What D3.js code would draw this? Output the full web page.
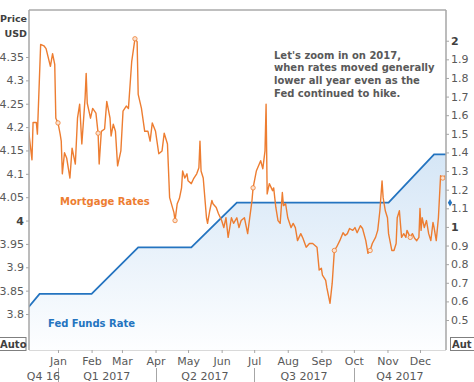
<!DOCTYPE html>
<html><head><meta charset="utf-8">
<script src="https://cdn.jsdelivr.net/npm/d3@7"></script>
<style>
html,body{margin:0;padding:0;background:#fff;}
svg{display:block;}
</style></head>
<body><svg id="c" width="474" height="382"></svg>
<script>
const mortgageDates = ["2016-12-05","2016-12-08","2016-12-09","2016-12-12","2016-12-13","2016-12-16","2016-12-19","2016-12-21","2016-12-25","2016-12-27","2016-12-29","2016-12-30",
"2017-01-01","2017-01-03","2017-01-04","2017-01-05","2017-01-07","2017-01-09","2017-01-12","2017-01-14","2017-01-17","2017-01-19","2017-01-21","2017-01-23","2017-01-26","2017-01-27","2017-01-28","2017-01-31",
"2017-02-02","2017-02-05","2017-02-07","2017-02-08","2017-02-10","2017-02-13","2017-02-15","2017-02-18","2017-02-19","2017-02-21","2017-02-23","2017-02-25","2017-02-28",
"2017-03-02","2017-03-05","2017-03-07","2017-03-10","2017-03-13","2017-03-15","2017-03-16","2017-03-19","2017-03-22","2017-03-25","2017-03-27","2017-03-29",
"2017-04-01","2017-04-04","2017-04-07","2017-04-09","2017-04-12","2017-04-14","2017-04-18","2017-04-19","2017-04-21","2017-04-23","2017-04-25","2017-04-26","2017-04-28","2017-04-30",
"2017-05-01","2017-05-04","2017-05-06","2017-05-09","2017-05-11","2017-05-12","2017-05-13","2017-05-15","2017-05-18","2017-05-19","2017-05-21","2017-05-23","2017-05-24","2017-05-27","2017-05-29",
"2017-06-01","2017-06-03","2017-06-05","2017-06-07","2017-06-10","2017-06-12","2017-06-15","2017-06-17","2017-06-19","2017-06-22","2017-06-25","2017-06-29","2017-06-30",
"2017-07-03","2017-07-07","2017-07-09","2017-07-11","2017-07-12","2017-07-13","2017-07-15","2017-07-18","2017-07-19","2017-07-21","2017-07-23","2017-07-25","2017-07-27","2017-07-28","2017-07-30",
"2017-08-01","2017-08-04","2017-08-06","2017-08-08","2017-08-10","2017-08-13","2017-08-15","2017-08-18","2017-08-21","2017-08-24","2017-08-28","2017-08-30",
"2017-09-01","2017-09-02","2017-09-05","2017-09-06","2017-09-09","2017-09-11","2017-09-13","2017-09-15","2017-09-18","2017-09-21","2017-09-23","2017-09-25","2017-09-27","2017-09-30",
"2017-10-02","2017-10-04","2017-10-07","2017-10-09","2017-10-12","2017-10-14","2017-10-16","2017-10-18","2017-10-21","2017-10-23","2017-10-25","2017-10-27","2017-10-28","2017-10-30",
"2017-11-01","2017-11-02","2017-11-05","2017-11-07","2017-11-09","2017-11-10","2017-11-12","2017-11-14","2017-11-16","2017-11-18","2017-11-19","2017-11-22","2017-11-24","2017-11-26","2017-11-28","2017-11-30",
"2017-12-01","2017-12-02","2017-12-03","2017-12-05","2017-12-07","2017-12-09","2017-12-11","2017-12-13","2017-12-14","2017-12-16","2017-12-18","2017-12-20","2017-12-22","2017-12-24"];
const mortgageRates = [4.19,4.13,4.21,4.21,4.185,4.377,4.374,4.368,4.33,4.357,4.334,4.219,
4.209,4.185,4.17,4.10,4.145,4.134,4.091,4.155,4.121,4.219,4.249,4.164,4.262,4.315,4.251,4.219,
4.24,4.23,4.187,4.121,4.191,4.196,4.255,4.219,4.181,4.206,4.191,4.117,4.149,
4.234,4.245,4.24,4.34,4.389,4.383,4.27,4.24,4.191,4.191,4.17,4.209,
4.191,4.143,4.149,4.187,4.164,4.049,4.017,4.0,4.036,4.047,4.07,4.106,4.091,4.10,
4.085,4.079,4.089,4.10,4.113,4.17,4.106,4.091,4.006,3.994,4.021,4.043,4.036,4.028,4.015,
4.0,3.985,4.006,3.964,4.006,3.994,4.006,3.985,4.0,4.006,3.972,4.043,4.07,
4.106,4.128,4.111,4.149,4.249,4.057,4.079,4.064,4.07,4.028,4.0,3.994,4.06,4.032,4.036,
4.006,3.985,3.994,3.985,3.957,3.972,3.962,3.943,3.951,3.951,3.943,3.894,
3.898,3.883,3.872,3.857,3.823,3.866,3.936,3.943,3.957,3.974,3.968,3.972,3.983,3.979,
3.985,3.974,3.989,3.983,3.957,3.93,3.936,3.951,3.964,3.979,4.021,4.085,4.049,4.021,
4.006,3.972,3.936,3.936,3.951,4.006,4.021,3.964,3.972,3.964,3.979,3.964,3.972,3.962,3.957,3.964,
4.026,3.979,4.006,3.985,4.0,3.972,3.957,3.996,3.985,3.957,4.006,4.096,4.091,4.096];
const markerDates = ["2017-01-01","2017-02-07","2017-03-13","2017-04-19","2017-06-30","2017-09-13","2017-10-16","2017-11-22","2017-12-22"];

const fedDates = ["2016-12-05","2016-12-15","2017-02-01","2017-03-16","2017-05-04","2017-06-15","2017-11-02","2017-12-14","2017-12-25"];
const fedRates = [0.57,0.64,0.64,0.89,0.89,1.13,1.13,1.39,1.39];

const leftTicks = [3.8,3.85,3.9,3.95,4,4.05,4.1,4.15,4.2,4.25,4.3,4.35];
const rightTicks = [0.5,0.6,0.7,0.8,0.9,1,1.1,1.2,1.3,1.4,1.5,1.6,1.7,1.8,1.9,2];
const monthTicks = ["2017-01-01","2017-02-01","2017-03-01","2017-04-01","2017-05-01","2017-06-01","2017-07-01","2017-08-01","2017-09-01","2017-10-01","2017-11-01","2017-12-01"];
const quarterBounds = ["2016-12-05","2017-01-01","2017-04-01","2017-07-01","2017-10-01","2017-12-25"];
const quarterLabels = ["Q4 16","Q1 2017","Q2 2017","Q3 2017","Q4 2017"];
const annotation = ["Let's zoom in on 2017,","when rates moved generally","lower all year even as the","Fed continued to hike."];
const fedMarkerValue = 1.13;

const parse = d3.timeParse("%Y-%m-%d");
const svg = d3.select("#c");
const L = 29, R = 446, T = 10, B = 350;
const FONT = "'DejaVu Sans', Verdana, sans-serif";
const ORANGE = "#ED7D31", BLUE = "#2474C0", AXIS = "#a6a6a6", TXT = "#595959";

const x = d3.scaleTime().domain([new Date(2016,11,5,6), new Date(2017,11,25)]).range([L, R]);
const yL = d3.scaleLinear().domain([3.723, 4.4506]).range([B, T]);
const yR = d3.scaleLinear().domain([0.339, 2.165]).range([B, T]);

const mort = mortgageDates.map((d,i)=>({d:parse(d), v:mortgageRates[i]}));
const fed = fedDates.map((d,i)=>({d:parse(d), v:fedRates[i]}));

const defs = svg.append("defs");
const grad = defs.append("linearGradient").attr("id","fg").attr("gradientUnits","userSpaceOnUse")
  .attr("x1",0).attr("x2",0).attr("y1",yR(1.39)).attr("y2",B);
grad.append("stop").attr("offset",0).attr("stop-color","#d5e6f6");
grad.append("stop").attr("offset",1).attr("stop-color","#fdfeff");
defs.append("clipPath").attr("id","clip").append("rect").attr("x",L).attr("y",T).attr("width",R-L).attr("height",B-T);

const plot = svg.append("g").attr("clip-path","url(#clip)");
plot.append("path").datum(fed)
  .attr("d", d3.area().x(d=>x(d.d)).y0(B).y1(d=>yR(d.v)))
  .attr("fill","url(#fg)");
plot.append("path").datum(fed)
  .attr("d", d3.line().x(d=>x(d.d)).y(d=>yR(d.v)))
  .attr("fill","none").attr("stroke",BLUE).attr("stroke-width",1.8);
plot.append("path").datum(mort)
  .attr("d", d3.line().x(d=>x(d.d)).y(d=>yL(d.v)))
  .attr("fill","none").attr("stroke",ORANGE).attr("stroke-width",1.4).attr("stroke-linejoin","round");
const mk = markerDates.map(s=>mort.find(m=>+m.d===+parse(s))).filter(Boolean);
plot.selectAll("circle.mk").data(mk).join("circle").attr("class","mk")
  .attr("cx",d=>x(d.d)).attr("cy",d=>yL(d.v)).attr("r",2.2)
  .attr("fill","#fbe3d2").attr("stroke",ORANGE).attr("stroke-width",0.8);

// frame
svg.append("line").attr("x1",L).attr("x2",R).attr("y1",T).attr("y2",T).attr("stroke","#bfbfbf").attr("stroke-width",2);
svg.append("line").attr("x1",L).attr("x2",R).attr("y1",B+0.5).attr("y2",B+0.5).attr("stroke","#d9d9d9");

// left axis
const gl = svg.append("g").attr("transform",`translate(${L},0)`)
  .call(d3.axisLeft(yL).tickValues(leftTicks).tickSize(3).tickPadding(2).tickFormat(d=>String(+d.toFixed(2))));
gl.select(".domain").remove();
gl.append("line").attr("x1",0).attr("x2",0).attr("y1",T).attr("y2",B).attr("stroke",AXIS).attr("stroke-width",1.5);
gl.selectAll(".tick line").attr("stroke",AXIS);
gl.selectAll(".tick text").style("font-family",FONT).style("font-size","11px")
  .style("font-weight",d=>d===4?"bold":"normal").attr("fill",d=>d===4?"#404040":TXT);

// right axis
const gr = svg.append("g").attr("transform",`translate(${R},0)`)
  .call(d3.axisRight(yR).tickValues(rightTicks).tickSize(3).tickPadding(2).tickFormat(d=>String(+d.toFixed(1))));
gr.select(".domain").remove();
gr.append("line").attr("x1",0).attr("x2",0).attr("y1",T).attr("y2",B).attr("stroke",AXIS).attr("stroke-width",1.5);
gr.selectAll(".tick line").attr("stroke",AXIS);
gr.selectAll(".tick text").style("font-family",FONT).style("font-size","11px")
  .style("font-weight",d=>(d===1||d===2)?"bold":"normal").attr("fill",d=>(d===1||d===2)?"#404040":TXT);

// bottom month axis
const gb = svg.append("g").attr("transform",`translate(0,${B})`)
  .call(d3.axisBottom(x).tickValues(monthTicks.map(parse)).tickSize(3).tickPadding(4).tickFormat(d3.timeFormat("%b")));
gb.select(".domain").remove();
gb.selectAll(".tick line").attr("stroke",AXIS);
gb.selectAll(".tick text").attr("fill",TXT).style("font-family",FONT).style("font-size","11px");

// quarter row
const qb = quarterBounds.map(parse);
svg.selectAll("line.qsep").data(qb.slice(1,-1)).join("line").attr("class","qsep")
  .attr("x1",d=>Math.round(x(d))+0.5).attr("x2",d=>Math.round(x(d))+0.5).attr("y1",368).attr("y2",382)
  .attr("stroke",AXIS);
svg.selectAll("text.q").data(quarterLabels).join("text").attr("class","q")
  .attr("x",(d,i)=>(x(qb[i])+x(qb[i+1]))/2).attr("y",380).attr("text-anchor","middle")
  .attr("fill",TXT).style("font-family",FONT).style("font-size","11px").text(d=>d);

// Price / USD
svg.append("text").attr("x",27).attr("y",22).attr("text-anchor","end").attr("fill","#404040")
  .style("font-family",FONT).style("font-size","9.5px").style("font-weight","bold").text("Price");
svg.append("text").attr("x",27).attr("y",37).attr("text-anchor","end").attr("fill","#404040")
  .style("font-family",FONT).style("font-size","9.5px").style("font-weight","bold").text("USD");

// Auto boxes
svg.append("rect").attr("x",-1).attr("y",337.5).attr("width",27).attr("height",13).attr("fill","#fff").attr("stroke","#7f7f7f");
svg.append("text").attr("x",0).attr("y",348).attr("fill","#404040").style("font-family",FONT).style("font-size","10px").style("font-weight","bold").text("Auto");
svg.append("rect").attr("x",450.5).attr("y",337.5).attr("width",30).attr("height",13).attr("fill","#fff").attr("stroke","#7f7f7f");
svg.append("text").attr("x",452).attr("y",348).attr("fill","#404040").style("font-family",FONT).style("font-size","10px").style("font-weight","bold").text("Aut");

// fed marker on right axis
svg.append("path").attr("d",d3.symbol(d3.symbolDiamond,16)()).attr("transform",`translate(${R+4},${yR(fedMarkerValue)})`).attr("fill",BLUE);

// series labels
svg.append("text").attr("x",60).attr("y",205).attr("fill",ORANGE).style("font-family",FONT).style("font-size","10px").style("font-weight","bold").text("Mortgage Rates");
svg.append("text").attr("x",48).attr("y",327).attr("fill",BLUE).style("font-family",FONT).style("font-size","10px").style("font-weight","bold").text("Fed Funds Rate");

// annotation
svg.append("g").selectAll("text").data(annotation).join("text")
  .attr("x",274).attr("y",(d,i)=>58.5+i*12.7).attr("fill","#595959")
  .style("font-family",FONT).style("font-size","10px").style("font-weight","bold").text(d=>d);
</script></body></html>
